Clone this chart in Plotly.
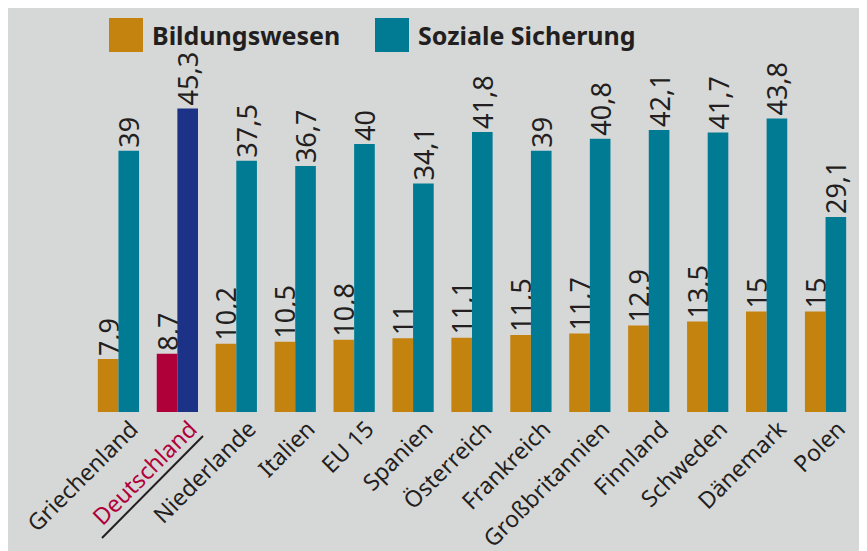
"""Bildungswesen vs. Soziale Sicherung - grouped bar chart"""

import plotly.graph_objects as go

# page is drawn with 8px body margin, so the figure is 8px smaller
OFF = 8
W, H = 867 - OFF, 551 - OFF

# Data
countries = ['Griechenland', 'Deutschland', 'Niederlande', 'Italien', 'EU 15', 'Spanien',
             'Österreich', 'Frankreich', 'Großbritannien', 'Finnland', 'Schweden',
             'Dänemark', 'Polen']
bildung = [7.9, 8.7, 10.2, 10.5, 10.8, 11, 11.1, 11.5, 11.7, 12.9, 13.5, 15, 15]
sozial = [39, 45.3, 37.5, 36.7, 40, 34.1, 41.8, 39, 40.8, 42.1, 41.7, 43.8, 29.1]
highlight = 'Deutschland'

COLORS = {
    'bildung': '#C4820E',
    'sozial': '#007B93',
    'bildung_hl': '#B0003A',
    'sozial_hl': '#1B3286',
    'bg': '#D6D8D8',
    'text': '#231F20',
}
FONT = 'Noto Sans, Open Sans, sans-serif'
NUM_FONT = 'Liberation Sans Narrow, Noto Sans, sans-serif'

# plot area in figure pixels
L, R, T, B = 89 - OFF, 855 - OFF, 77 - OFF, 412 - OFF


def px_x(x):
    return (x - OFF - L) / (R - L)


def px_y(y):
    return (B - (y - OFF)) / (B - T)


def fmt(v):
    return ('%g' % v).replace('.', ',')


def tick(c):
    if c == highlight:
        return '<span style="color:%s">%s</span>' % (COLORS['bildung_hl'], c)
    return c


fig = go.Figure()
fig.add_trace(go.Bar(
    x=countries, y=bildung, name='Bildungswesen',
    text=[fmt(v) for v in bildung],
    marker=dict(color=[COLORS['bildung_hl'] if c == highlight else COLORS['bildung']
                       for c in countries], line=dict(width=0)),
))
fig.add_trace(go.Bar(
    x=countries, y=sozial, name='Soziale Sicherung',
    text=[fmt(v) for v in sozial],
    marker=dict(color=[COLORS['sozial_hl'] if c == highlight else COLORS['sozial']
                       for c in countries], line=dict(width=0)),
))
fig.update_traces(
    textposition='outside', textangle=-90, cliponaxis=False, constraintext='none',
    textfont=dict(size=27, color=COLORS['text'], family=NUM_FONT),
)

# custom legend (big squares) and underline for Deutschland
shapes = []
annotations = []
for x0, label, col in [(109, 'Bildungswesen', COLORS['bildung']),
                       (375, 'Soziale Sicherung', COLORS['sozial'])]:
    shapes.append(dict(type='rect', xref='paper', yref='paper',
                       x0=px_x(x0), x1=px_x(x0 + 34), y0=px_y(52), y1=px_y(18),
                       fillcolor=col, line=dict(width=0)))
    annotations.append(dict(xref='paper', yref='paper', x=px_x(x0 + 41), y=px_y(35),
                            xanchor='left', yanchor='middle', showarrow=False,
                            text='<b>%s</b>' % label,
                            font=dict(size=25, color=COLORS['text'], family=FONT)))
shapes.append(dict(type='line', xref='paper', yref='paper',
                   x0=px_x(102), y0=px_y(538), x1=px_x(203), y1=px_y(436),
                   line=dict(color=COLORS['text'], width=2)))

fig.update_layout(
    width=W, height=H,
    barmode='group', bargap=0.3, bargroupgap=0,
    showlegend=False,
    uniformtext=dict(minsize=20, mode='show'),
    paper_bgcolor=COLORS['bg'],
    plot_bgcolor=COLORS['bg'],
    font={'color': COLORS['text'], 'family': FONT, 'size': 23},
    margin={'l': L, 'r': W - R, 't': T, 'b': H - B, 'pad': 0, 'autoexpand': False},
    xaxis={
        'tickmode': 'array', 'tickvals': countries,
        'ticktext': [tick(c) for c in countries],
        'tickangle': -45, 'showgrid': False, 'showline': False, 'ticks': '',
        'automargin': False, 'ticklabelshift': 13, 'ticklabelstandoff': -2,
        'tickfont': {'size': 23, 'color': COLORS['text'], 'family': FONT},
    },
    yaxis={'range': [0, 50], 'visible': False, 'automargin': False},
    shapes=shapes,
    annotations=annotations,
)

fig.write_html("out.html")
